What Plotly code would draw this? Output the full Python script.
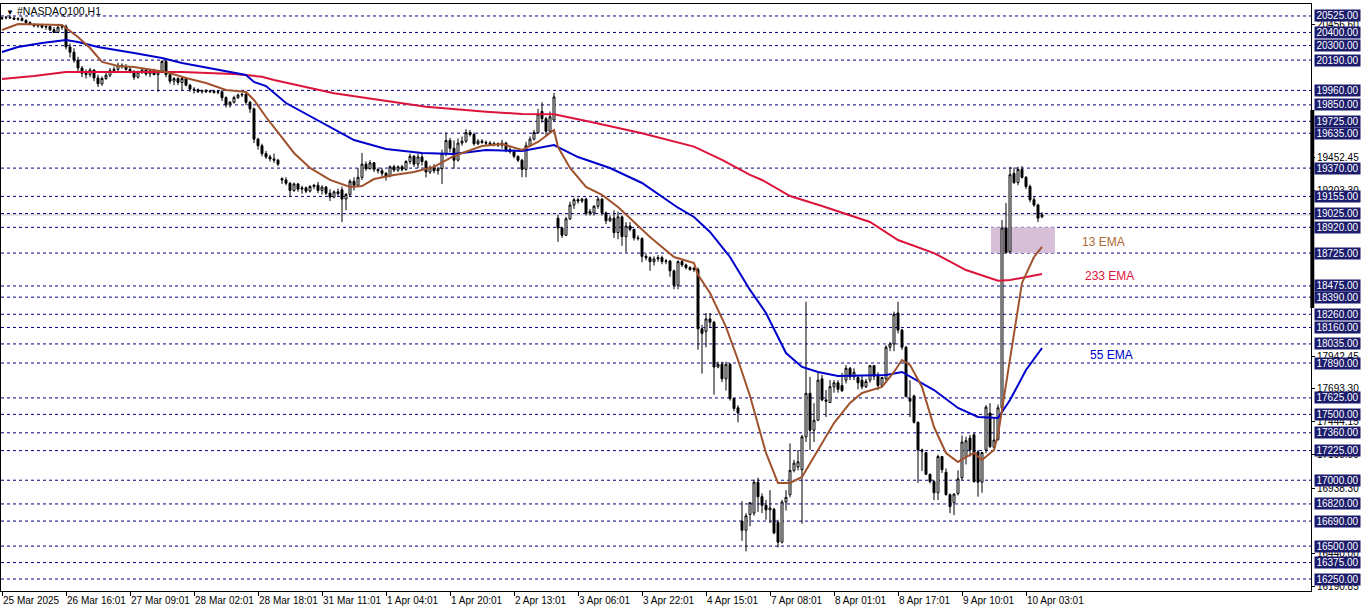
import plotly.graph_objects as go

# ---------------- candle data (H1 bars, index 0 = 25 Mar 2025) ----------------
opens = [20505,20510,20515,20510,20500,20505,20490,20475,20460,20450,20455,20440,20445,20420,20400,20440,
20445,20290,20250,20190,20130,20090,20080,20115,20055,20010,20050,20075,20110,20120,20150,20140,
20120,20100,20060,20100,20115,20085,20110,20080,20100,20180,20080,20030,20050,20020,20050,20000,
19970,19965,19950,19960,19950,19955,19945,19950,19905,19850,19870,19905,19925,19930,19870,19820,
19590,19540,19480,19455,19440,19430,19290,19280,19255,19200,19250,19210,19220,19195,19230,19240,
19200,19225,19180,19150,19190,19205,19135,19170,19270,19240,19300,19400,19365,19410,19360,19350,
19330,19310,19380,19355,19380,19360,19420,19460,19400,19455,19420,19340,19375,19350,19365,19480,
19580,19520,19430,19560,19575,19640,19625,19555,19575,19565,19560,19550,19555,19545,19560,19510,
19495,19460,19430,19360,19540,19590,19640,19800,19745,19650,19735,18990,18915,18860,18985,19090,
19130,19120,19135,19025,19030,19080,19135,19030,18970,18990,18880,19000,18850,18930,18905,18840,
18835,18700,18690,18660,18680,18690,18660,18665,18590,18480,18660,18635,18615,18600,18600,18150,
18130,18225,18200,17860,17880,17770,17880,17620,17550,16690,16620,16740,16750,16985,16875,16810,
16775,16780,16680,16530,16835,16890,17075,17100,17080,17330,17660,17380,17455,17770,17610,17590,
17710,17740,17720,17760,17850,17785,17780,17760,17710,17760,17870,17790,17720,17770,18010,18035,
18270,18140,18010,17620,17640,17440,17230,17210,17045,16990,16905,17180,17060,16890,16830,16900,
17020,17180,17320,17345,17215,16985,17230,17510,17250,17310,17550,18915,18735,19330,19260,19360,
19300,19230,19130,19090,19000]
highs = [20520,20525,20530,20520,20515,20520,20500,20485,20470,20465,20465,20455,20450,20440,20450,20460,
20460,20315,20280,20215,20145,20120,20130,20120,20080,20065,20095,20130,20140,20170,20165,20160,
20140,20115,20110,20130,20125,20120,20125,20115,20190,20195,20090,20060,20060,20060,20060,20010,
19985,19975,19965,19970,19965,19965,19960,19965,19915,19880,19920,19935,19940,19945,19880,19830,
19600,19555,19500,19470,19480,19440,19300,19300,19265,19260,19255,19235,19230,19240,19250,19265,
19240,19235,19210,19200,19215,19230,19180,19285,19300,19370,19485,19420,19430,19415,19375,19370,
19340,19390,19395,19390,19395,19430,19480,19470,19480,19485,19430,19390,19400,19380,19510,19640,
19600,19580,19595,19610,19665,19660,19640,19590,19590,19580,19575,19570,19565,19585,19570,19540,
19510,19465,19440,19570,19610,19660,19820,19870,19760,19800,19940,19015,18925,19000,19115,19145,
19145,19145,19145,19060,19090,19150,19140,19040,19010,19050,19040,19010,18960,18960,18910,18860,
18845,18720,18700,18700,18710,18705,18680,18670,18600,18670,18675,18645,18625,18620,18615,18180,
18270,18270,18210,17900,17900,17900,17890,17625,17570,16840,16750,16830,17005,17020,16900,16850,
16925,16790,16700,16850,16925,17280,17155,17230,17345,18355,17785,17585,17815,17800,17685,17760,
17760,17760,17815,17875,17860,17850,17790,17790,17770,17875,17875,17820,17785,18025,18050,18280,
18355,18150,18020,17760,17650,17445,17240,17215,17050,17000,17195,17185,17090,16900,16900,17075,
17340,17330,17345,17360,17230,17215,17570,17585,17470,17575,18975,19105,19380,19375,19380,19385,
19310,19245,19150,19100,19035]
lows = [20495,20500,20505,20495,20490,20485,20465,20455,20440,20435,20430,20420,20410,20395,20395,20420,
20270,20210,20170,20100,20060,20050,20060,20030,19985,19995,20040,20060,20090,20100,20125,20110,
20090,20040,20050,20085,20070,20060,20075,19950,20090,20060,20010,20000,20000,19960,19990,19950,
19935,19940,19935,19940,19940,19935,19930,19880,19830,19830,19860,19895,19910,19850,19790,19560,
19510,19460,19440,19420,19410,19385,19250,19240,19150,19190,19190,19175,19180,19185,19210,19180,
19170,19165,19120,19140,19160,18960,19050,19150,19200,19225,19280,19350,19360,19340,19330,19305,
19275,19300,19340,19340,19345,19350,19400,19380,19370,19390,19300,19325,19330,19320,19250,19460,
19490,19365,19420,19540,19560,19610,19540,19545,19555,19540,19540,19535,19530,19520,19490,19480,
19445,19415,19300,19300,19530,19580,19630,19715,19620,19640,19730,18810,18840,18855,18975,19060,
19100,19105,19010,19010,19010,19060,19010,18945,18960,18840,18830,18780,18730,18890,18820,18820,
18655,18670,18590,18630,18660,18640,18640,18545,18450,18450,18620,18600,18590,18580,17990,17810,
18010,18160,17650,17850,17745,17680,17605,17525,17440,16540,16460,16650,16730,16760,16750,16700,
16675,16590,16490,16520,16770,16870,17060,17075,16670,17290,17230,17290,17455,17600,17480,17585,
17665,17665,17670,17735,17760,17760,17690,17690,17700,17740,17760,17685,17710,17740,17980,17980,
18115,17990,17630,17480,17430,16980,17070,17040,16975,16850,16850,17055,16885,16750,16735,16885,
17000,17120,17180,16980,16875,16905,17205,17245,17245,17300,17540,18720,18725,19250,19240,19290,
19210,19110,19075,18960,18990]
closes = [20510,20515,20510,20500,20505,20490,20475,20460,20450,20455,20440,20445,20420,20400,20440,20445,
20290,20250,20190,20130,20090,20080,20115,20055,20010,20050,20075,20110,20120,20150,20140,20120,
20100,20060,20100,20115,20085,20110,20080,20100,20180,20080,20030,20050,20020,20050,20000,19970,
19965,19950,19960,19950,19955,19945,19950,19905,19850,19870,19905,19925,19930,19870,19820,19590,
19540,19480,19455,19440,19430,19400,19280,19255,19200,19250,19210,19220,19195,19230,19240,19200,
19225,19180,19150,19190,19175,19135,19170,19270,19240,19300,19400,19365,19410,19360,19350,19330,
19310,19380,19355,19380,19360,19420,19460,19400,19455,19420,19340,19375,19350,19365,19480,19580,
19520,19430,19560,19575,19640,19625,19555,19575,19565,19560,19550,19555,19545,19560,19510,19495,
19460,19430,19360,19540,19590,19640,19780,19745,19650,19760,19910,18915,18860,18985,19090,19130,
19120,19135,19025,19040,19080,19135,19030,18970,18990,18880,19000,18850,18930,18905,18840,18835,
18700,18690,18660,18680,18690,18660,18665,18590,18480,18660,18635,18615,18600,18610,18150,18115,
18225,18200,17860,17880,17770,17880,17620,17545,17510,16620,16730,16830,16985,16875,16810,16775,
16790,16600,16530,16835,16870,17075,17130,17140,17330,17660,17380,17455,17760,17610,17600,17710,
17740,17690,17680,17850,17785,17820,17740,17710,17750,17870,17790,17720,17780,18010,18035,18260,
18140,18010,17635,17600,17440,17230,17220,17045,16990,16905,17180,17080,16890,16800,16895,17010,
17290,17300,17230,16990,16985,17210,17555,17255,17305,17550,18915,18730,19320,19260,19360,19300,
19230,19130,19090,18990,19015]
bars = list(range(len(opens)))

# ---------------- moving averages ----------------
ema13_bars = [0,4,15,19,22,25,29,33,41,46,51,56,61,63,66,68,73,77,82,87,90,93,98,103,108,113,120,125,130,134,
              138,139,142,146,150,154,157,162,168,173,174,177,181,184,187,191,194,197,200,204,208,212,215,220,
              223,225,227,230,233,236,239,241,243,245,248,249,251,253,255,258,260]
ema13_vals = [20419,20464,20457,20366,20282,20176,20145,20138,20100,20054,20016,19963,19948,19887,19758,19682,
              19485,19371,19280,19227,19234,19287,19318,19341,19379,19462,19538,19553,19508,19568,
              19660,19530,19371,19227,19166,19075,18991,18847,18695,18649,18560,18422,18164,17913,17640,17207,
              16979,16979,17025,17230,17434,17587,17663,17708,17822,17913,17875,17708,17404,17207,17139,17176,
              17207,17154,17230,17343,17738,18118,18498,18695,18771]
ema55_bars = [0,4,10,16,19,24,33,40,45,54,61,63,66,71,80,88,96,105,113,121,130,138,144,152,160,169,173,177,
              182,184,187,191,196,200,204,209,221,225,233,239,244,249,252,256,260]
ema55_vals = [20252,20290,20320,20343,20328,20290,20244,20206,20168,20115,20077,20024,19993,19864,19713,19583,
              19515,19485,19477,19508,19500,19545,19454,19371,19257,19069,18999,18885,18695,18596,18445,18270,
              17966,17860,17822,17792,17799,17822,17685,17549,17480,17473,17609,17837,18004]
ema233_bars = [0,8,16,45,53,58,65,68,83,97,106,121,130,138,147,160,173,180,187,190,197,205,217,224,233,241,249,252,260]
ema233_vals = [20047,20070,20100,20100,20090,20085,20064,20039,19938,19874,19836,19798,19781,19778,19722,19634,
               19533,19432,19318,19280,19158,19082,18961,18824,18725,18596,18515,18520,18566]

# ---------------- axis texts / levels ----------------
tick_bars = [0,16,32,48,64,80,96,112,128,144,160,176,192,208,224,240,256]
tick_labels = ["25 Mar 2025","26 Mar 16:01","27 Mar 09:01","28 Mar 02:01","28 Mar 18:01","31 Mar 11:01",
               "1 Apr 04:01","1 Apr 20:01","2 Apr 13:01","3 Apr 06:01","3 Apr 22:01","4 Apr 15:01",
               "7 Apr 08:01","8 Apr 01:01","8 Apr 17:01","9 Apr 10:01","10 Apr 03:01"]
scale_prices = [20456.60,19452.45,19203.30,17942.45,17693.30,17444.15,17195.00,16938.30,16440.00,16190.85]
level_prices = [20525,20400,20300,20190,19960,19850,19725,19635,19370,19155,19025,18920,18725,18475,18390,
                18260,18160,18035,17890,17625,17500,17360,17225,17000,16820,16690,16500,16375,16250]
bid_price = 19015
zone_bars = [247.25, 263.25]
zone_prices = [18725, 18920]
axis_bar_prices = [18308, 19811]
ema_labels = [("13 EMA", 269.5, 18809, "#b0692f"), ("233 EMA", 270.3, 18551, "#dc143c"), ("55 EMA", 271.5, 17951, "#0000cd")]

FONT = "Liberation Sans, Arial, sans-serif"
NAVY = "#1c1c6c"

fig = go.Figure()
fig.add_trace(go.Candlestick(
    x=bars, open=opens, high=highs, low=lows, close=closes,
    increasing=dict(line=dict(color="black", width=1), fillcolor="white"),
    decreasing=dict(line=dict(color="black", width=1), fillcolor="black"),
    whiskerwidth=0, showlegend=False, hoverinfo="skip"))
fig.add_trace(go.Scatter(x=ema233_bars, y=ema233_vals, mode="lines", line=dict(color="#dc143c", width=2),
                         showlegend=False, hoverinfo="skip"))
fig.add_trace(go.Scatter(x=ema55_bars, y=ema55_vals, mode="lines", line=dict(color="#0000cd", width=2),
                         showlegend=False, hoverinfo="skip"))
fig.add_trace(go.Scatter(x=ema13_bars, y=ema13_vals, mode="lines", line=dict(color="#a0522d", width=2),
                         showlegend=False, hoverinfo="skip"))

shapes = [dict(type="rect", xref="x", yref="y", x0=zone_bars[0], x1=zone_bars[1], y0=zone_prices[0],
               y1=zone_prices[1], fillcolor="#d8bfd8", line=dict(width=0), layer="below")]
shapes.append(dict(type="line", xref="paper", yref="y", x0=0, x1=1, y0=bid_price, y1=bid_price,
                   line=dict(color="#c0c0c0", width=1), layer="below"))
for p in level_prices:
    shapes.append(dict(type="line", xref="paper", yref="y", x0=0, x1=1, y0=p, y1=p,
                       line=dict(color="#000080", width=1, dash="3px,3px"), layer="below"))

annotations = []
for p in level_prices:
    annotations.append(dict(x=1, xref="paper", xanchor="left", xshift=3, y=p, yref="y", yanchor="middle",
                            text=f"{p:.2f}", showarrow=False, bgcolor=NAVY, borderpad=0, width=45, height=11,
                            font=dict(color="white", size=10, family=FONT)))
for name, bx, py, col in ema_labels:
    annotations.append(dict(x=bx, xref="x", xanchor="left", y=py, yref="y", yanchor="middle", text=name,
                            showarrow=False, font=dict(color=col, size=12, family=FONT)))
annotations.append(dict(x=0, xref="paper", xanchor="left", xshift=3, y=1, yref="paper", yanchor="top",
                        yshift=-2, text="▼", showarrow=False, font=dict(color="black", size=8, family=FONT)))
annotations.append(dict(x=0, xref="paper", xanchor="left", xshift=14, y=1, yref="paper", yanchor="top",
                        yshift=1, text="#NASDAQ100,H1", showarrow=False,
                        font=dict(color="black", size=10.5, family=FONT)))

fig.update_layout(
    width=1362, height=611, margin=dict(l=1, r=51, t=4, b=20, autoexpand=False),
    paper_bgcolor="white", plot_bgcolor="white", showlegend=False,
    shapes=shapes, annotations=annotations,
    xaxis=dict(range=[-0.25, 327.25], showgrid=False, zeroline=False, showline=True, linecolor="black",
               linewidth=1, mirror=True, ticks="outside", ticklen=4, tickcolor="black", automargin=False,
               tickangle=0, tickvals=tick_bars, ticktext=tick_labels, ticklabelposition="outside right",
               tickfont=dict(family=FONT, size=10, color="black"), rangeslider=dict(visible=False)),
    yaxis=dict(range=[16159, 20616], side="right", showgrid=False, zeroline=False, showline=True,
               linecolor="black", linewidth=1, mirror=True, ticks="outside", ticklen=3, tickcolor="black",
               automargin=False, tickvals=scale_prices, ticktext=[f"{v:.2f}" for v in scale_prices],
               tickfont=dict(family=FONT, size=10, color="black")),
)
# thick price-axis marker on the right border (drawn in paper/data space, not clipped)
fig.add_shape(type="rect", xref="paper", yref="y", x0=0.9995, x1=1.0025, y0=axis_bar_prices[0],
              y1=axis_bar_prices[1], fillcolor="black", line=dict(width=0), layer="above")
fig.write_html("out.html", config={"displayModeBar": False},
               post_script="document.body.style.margin='0';document.body.style.overflow='hidden';")
